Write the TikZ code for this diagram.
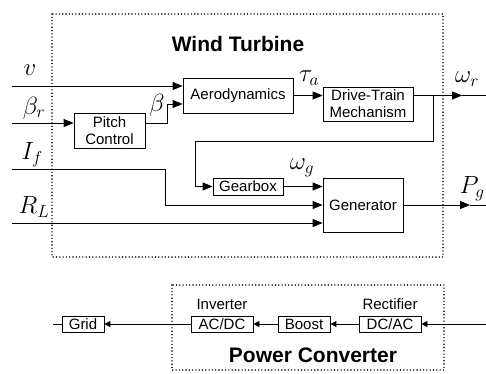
\documentclass[tikz,border=0pt]{standalone}
\usepackage{fontspec}
\setsansfont{Liberation Sans}
\DeclareSymbolFont{letters}{OML}{lmm}{m}{it}
\usetikzlibrary{arrows.meta}

\tikzset{
    blk/.style={draw, line width=0.8pt, inner sep=0pt, align=center,
        font=\sffamily\fontsize{15}{17}\selectfont},
    txt/.style={inner sep=0pt, font=\sffamily\fontsize{15}{17}\selectfont},
    lbl/.style={inner sep=0pt, font=\fontsize{23}{27}\selectfont},
    ttl/.style={inner sep=0pt, font=\sffamily\bfseries\fontsize{21}{24}\selectfont},
    ln/.style={line width=0.8pt},
    arr/.style={line width=0.8pt, -{Triangle[length=10pt,width=8pt]}},
    sarr/.style={line width=0.8pt, -{Triangle[length=6pt,width=6pt]}},
    frame/.style={line width=1.6pt, line cap=round, dash pattern=on 0pt off 3.3pt}
}

\begin{document}
\begin{tikzpicture}[x=1pt,y=-1pt]
\useasboundingbox (0,0) rectangle (486,373);

% wind turbine
\draw[frame] (52,14) rectangle (443,257);
\node[ttl] (wt) at (238,44) {Wind Turbine};

\node[
    blk,
    minimum width=110pt,
    minimum height=35pt
] (aero) at (238,95.5) {Aerodynamics};
\node[
    blk,
    minimum width=71pt,
    minimum height=35pt
] (pitch) at (109.5,130.5) {Pitch\\Control};
\node[
    blk,
    minimum width=90pt,
    minimum height=34pt
] (drive) at (368,104) {Drive-Train\\Mechanism};
\node[
    blk,
    minimum width=70pt,
    minimum height=17pt
] (gear) at (248,186.5) {Gearbox};
\node[
    blk,
    minimum width=80pt,
    minimum height=54pt
] (gen) at (363,205) {Generator};

\coordinate (v) at (12,86);
\coordinate (br) at (12,123);
\coordinate (if) at (12,169);
\coordinate (rl) at (12,223);

\node[lbl] (vl) at (30,70) {$v$};
\node[lbl] (brl) at (34,108) {$\beta_r$};
\node[lbl] (ifl) at (32,155) {$I_f$};
\node[lbl] (rll) at (34,207) {$R_L$};
\node[lbl] (bl) at (157,105) {$\beta$};
\node[lbl] (tal) at (309,78) {$\tau_a$};
\node[lbl] (wgl) at (302,168) {$\omega_g$};
\node[lbl] (wrl) at (467,79) {$\omega_r$};
\node[lbl] (pgl) at (472,189) {$P_g$};

\draw[arr] (v) -- (v -| aero.west);
\draw[arr] (br) -- (br -| pitch.west);
\coordinate (bo) at (br -| pitch.east);
\coordinate (bi) at ([yshift=-8.5pt]aero.west);
\draw[arr] (bo) -- ++(22,0) |- (bi);
\draw[arr] (aero) -- (aero -| drive.west);

\coordinate (do) at (aero -| drive.east);
\coordinate (wrtip) at (462,95.5);
\coordinate (wrend) at (486,95.5);
\draw[arr] (do) -- (wrtip);
\draw[ln] (wrtip) -- (wrend);

\coordinate (fb) at (433,95.5);
\coordinate (fbc) at (195,141);
\draw[arr] (fb) |- (fbc) |- (gear.west);
\draw[arr] (gear) -- (gear -| gen.west);

\coordinate (ifb) at (165,205);
\draw[arr] (if) -| (ifb) -- (gen.west);
\draw[arr] (rl) -- (rl -| gen.west);

\coordinate (pgtip) at (470,205);
\coordinate (pgend) at (486,205);
\draw[arr] (gen) -- (pgtip);
\draw[ln] (pgtip) -- (pgend);

% power converter
\draw[frame] (172,285) rectangle (444,370);
\node[ttl] (pc) at (313,355) {Power Converter};

\node[blk, minimum width=42pt, minimum height=16pt] (grid) at (83,324) {Grid};
\node[blk, minimum width=62pt, minimum height=16pt] (inv) at (222,324) {AC/DC};
\node[blk, minimum width=52pt, minimum height=16pt] (boost) at (304,324) {Boost};
\node[blk, minimum width=62pt, minimum height=16pt] (rect) at (390,324) {DC/AC};

\node[txt,anchor=south] (invl) at ([yshift=6pt]inv.north) {Inverter};
\node[txt,anchor=south] (rectl) at ([yshift=6pt]rect.north) {Rectifier};

\coordinate (gs) at (53,324);
\coordinate (pin) at (486,324);
\draw[ln] (gs) -- (grid.west);
\draw[sarr] (inv) -- (grid);
\draw[sarr] (boost) -- (inv);
\draw[sarr] (rect) -- (boost);
\draw[sarr] (pin) -- (rect);
\end{tikzpicture}
\end{document}
